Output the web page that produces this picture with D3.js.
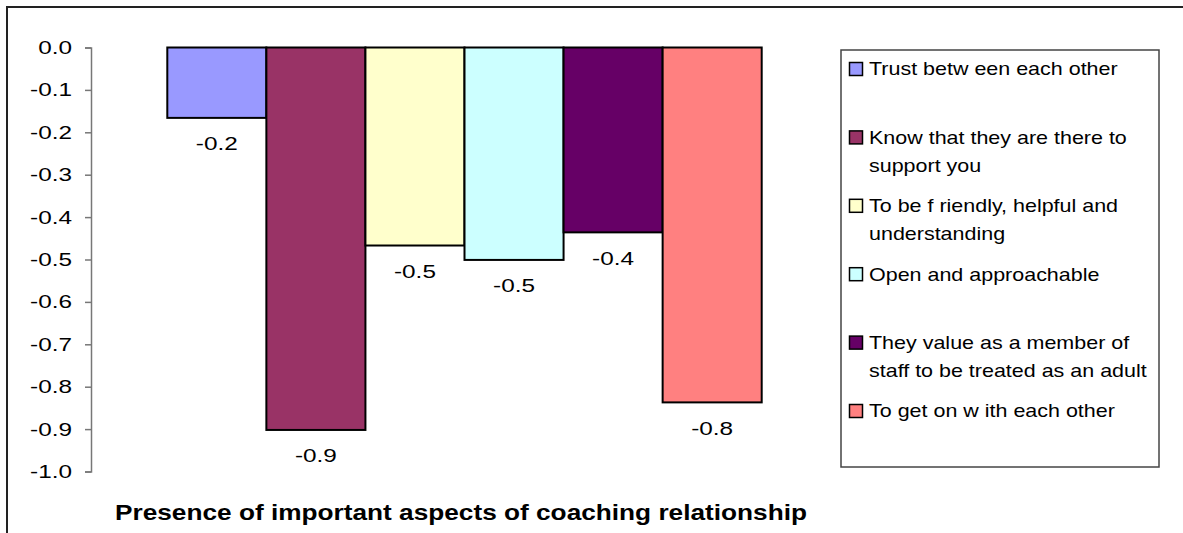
<!DOCTYPE html>
<html>
<head>
<meta charset="utf-8">
<script src="https://cdn.jsdelivr.net/npm/d3@7/dist/d3.min.js"></script>
<style>
  html, body { margin: 0; padding: 0; background: #fff; }
  svg text { font-family: "Liberation Sans", Arial, sans-serif; fill: #000; }
</style>
</head>
<body>
<svg id="chart" width="1183" height="533"></svg>
<script>
// ---- data ----
const categories = [
  "Trust between each other",
  "Know that they are there to support you",
  "To be friendly, helpful and understanding",
  "Open and approachable",
  "They value as a member of staff to be treated as an adult",
  "To get on with each other"
];
const legendLines = [
  ["Trust betw een each other"],
  ["Know  that they are there to", "support you"],
  ["To be f riendly, helpful and", "understanding"],
  ["Open and approachable"],
  ["They value as a member of", "staff to be treated as an adult"],
  ["To get on w ith each other"]
];
const values = [-0.166, -0.902, -0.467, -0.501, -0.436, -0.837];
const colors = ["#9999FF", "#993366", "#FFFFCC", "#CCFFFF", "#660066", "#FF8080"];
const yTicks = [0, -0.1, -0.2, -0.3, -0.4, -0.5, -0.6, -0.7, -0.8, -0.9, -1.0];
const axisTitle = "Presence of important aspects of coaching relationship";

// ---- helpers ----
const loc = d3.formatLocale({decimal: ".", thousands: ",", grouping: [3], currency: ["$", ""], minus: "-"});
const fmt = loc.format(".1f");
function stretch(sel, k) {
  sel.each(function () {
    const len = this.getComputedTextLength();
    d3.select(this).attr("textLength", len * k).attr("lengthAdjust", "spacingAndGlyphs");
  });
}

// ---- layout ----
const svg = d3.select("#chart");
const font = 19;

// outer chart border
svg.append("rect").attr("x", 7).attr("y", 7).attr("width", 1200).attr("height", 600)
  .attr("fill", "none").attr("stroke", "#222").attr("stroke-width", 2);

const y = d3.scaleLinear().domain([-1, 0]).range([471.5, 47.5]);
const x = d3.scaleBand().domain(categories).range([167.3, 761.7]).padding(0);

// y axis
const axisX = 91;
const yAxis = d3.axisLeft(y).tickValues(yTicks).tickSize(6).tickPadding(13).tickFormat(fmt);
const gAxis = svg.append("g").attr("transform", `translate(${axisX},0)`).call(yAxis);
gAxis.select(".domain").attr("stroke", "#777").attr("stroke-width", 1.5);
gAxis.selectAll(".tick line").attr("stroke", "#777").attr("stroke-width", 1.5);
gAxis.selectAll(".tick text")
  .attr("font-size", font).attr("font-family", "\"Liberation Sans\", Arial, sans-serif")
  .attr("fill", "#000");
stretch(gAxis.selectAll(".tick text"), 1.28);

// bars
svg.append("g").selectAll("rect").data(categories).join("rect")
  .attr("x", d => x(d))
  .attr("y", y(0))
  .attr("width", x.bandwidth())
  .attr("height", (d, i) => y(values[i]) - y(0))
  .attr("fill", (d, i) => colors[i])
  .attr("stroke", "#000").attr("stroke-width", 2);

// data labels
const labels = svg.append("g").selectAll("text").data(categories).join("text")
  .attr("x", d => x(d) + x.bandwidth() / 2)
  .attr("y", (d, i) => y(values[i]) + 26)
  .attr("text-anchor", "middle")
  .attr("dy", "0.34em")
  .attr("font-size", font)
  .text((d, i) => fmt(values[i]));
stretch(labels, 1.28);

// legend
const lg = svg.append("g");
lg.append("rect").attr("x", 841).attr("y", 50).attr("width", 318).attr("height", 417)
  .attr("fill", "#fff").attr("stroke", "#444").attr("stroke-width", 1.5);
const legendY = d3.scaleLinear().domain([0, 5]).range([68.5, 410.5]);
categories.forEach((c, i) => {
  const cy = legendY(i);
  lg.append("rect").attr("x", 849.5).attr("y", cy - 6).attr("width", 13).attr("height", 13)
    .attr("fill", colors[i]).attr("stroke", "#000").attr("stroke-width", 1.5);
  legendLines[i].forEach((line, j) => {
    const t = lg.append("text").attr("x", 869).attr("y", cy + j * 28)
      .attr("dy", "0.36em")
      .attr("font-size", font)
      .text(line);
    stretch(t, 1.13);
  });
});

// category axis title
svg.append("text").attr("x", 115).attr("y", 520)
  .attr("font-size", 22).attr("font-weight", "bold")
  .attr("textLength", 692).attr("lengthAdjust", "spacingAndGlyphs")
  .text(axisTitle);
</script>
</body>
</html>
